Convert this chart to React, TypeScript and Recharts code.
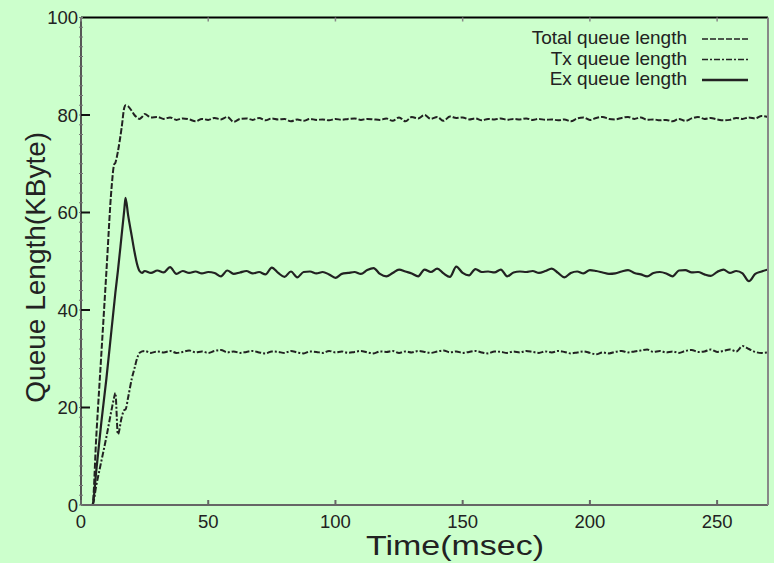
import React from 'react';
import { LineChart, Line, XAxis, YAxis, Legend, Label } from 'recharts';

// time axis (msec)
const times = [
  0, 4.5, 6, 8, 10, 12, 13, 13.5, 14.5, 16, 17, 17.5, 18.5, 20, 21, 22, 23, 24,
  25, 27.5, 30, 32.5, 35, 37.5, 40, 42.5, 45, 47.5, 50, 52.5, 55, 57.5, 60, 62.5, 65, 67.5,
  70, 72.5, 75, 77.5, 80, 82.5, 85, 87.5, 90, 92.5, 95, 97.5, 100, 102.5, 105, 107.5, 110, 112.5,
  115, 117.5, 120, 122.5, 125, 127.5, 130, 132.5, 135, 137.5, 140, 142.5, 145, 147.5, 150, 152.5,
  155, 157.5, 160, 162.5, 165, 167.5, 170, 172.5, 175, 177.5, 180, 182.5, 185, 187.5, 190, 192.5,
  195, 197.5, 200, 202.5, 205, 207.5, 210, 212.5, 215, 217.5, 220, 222.5, 225, 227.5, 230, 232.5,
  235, 237.5, 240, 242.5, 245, 247.5, 250, 252.5, 255, 257.5, 260, 262.5, 265, 267.5, 270,
];

const totalQueue = [
  0, 0, 14, 31, 48, 65, 69.8, 70.2, 72.5, 77.5, 81.5, 82, 81.8, 80.8, 80, 79.5, 79.2, 79.6,
  80.2, 79.5, 79.6, 79.2, 79.5, 79.0, 79.3, 79.1, 78.7, 79.2, 79.0, 79.4, 79.1, 79.6, 78.6, 79.2, 79.3, 79.0,
  79.4, 78.9, 79.3, 79.1, 79.2, 78.7, 79.1, 78.8, 79.2, 79.0, 79.1, 78.9, 79.2, 79.0, 79.2, 79.3, 79.0, 79.2,
  79.1, 79.0, 79.3, 78.8, 79.5, 78.7, 79.6, 79.3, 80.0, 79.2, 79.6, 78.8, 79.7, 79.4, 79.5, 79.1,
  79.3, 78.9, 79.2, 79.1, 79.3, 79.0, 79.2, 79.1, 79.3, 79.0, 79.2, 79.0, 79.1, 78.9, 79.1, 78.7,
  79.3, 79.5, 79.0, 79.4, 79.6, 79.2, 79.1, 79.4, 79.6, 79.2, 79.5, 79.0, 79.1, 78.9, 79.0, 78.7,
  79.2, 78.8, 79.3, 79.6, 79.2, 79.4, 79.1, 78.9, 79.0, 79.4, 79.2, 79.5, 79.3, 79.8, 79.6,
];

const txQueue = [
  0, 0, 4, 9, 14, 19.5, 22, 23, 14.5, 18, 19.5, 19.6, 22, 26, 28, 30, 31.2, 31.5,
  31.6, 31.2, 31.5, 31.3, 31.6, 31.2, 31.4, 31.7, 31.3, 31.5, 31.2, 31.6, 31.8, 31.3, 31.5, 31.2, 31.4, 31.6,
  31.3, 31.1, 31.5, 31.4, 31.2, 31.6, 31.3, 31.1, 31.5, 31.4, 31.2, 31.6, 31.3, 31.5, 31.2, 31.4, 31.6, 31.3,
  31.1, 31.5, 31.4, 31.6, 31.2, 31.5, 31.3, 31.6, 31.4, 31.2, 31.5, 31.7, 31.3, 31.5, 31.2, 31.4,
  31.6, 31.3, 31.1, 31.5, 31.4, 31.2, 31.5, 31.3, 31.6, 31.4, 31.2, 31.5, 31.3, 31.6, 31.4, 31.1,
  31.3, 31.5, 31.2, 30.9, 31.3, 31.1, 31.4, 31.6, 31.3, 31.5, 31.7, 31.9, 31.4, 31.6, 31.3, 31.5,
  31.2, 31.6, 31.8, 31.4, 31.5, 31.9, 31.4, 31.6, 31.9, 31.5, 32.6, 32.0, 31.4, 31.2, 31.3,
];

const exQueue = [
  0, 0, 7, 17, 26, 36, 41, 43.5, 48, 55.5, 60.5, 63, 59.5, 55, 52, 49.5, 48, 47.6,
  48.0, 47.6, 48.1, 47.7, 48.8, 47.4, 48.0, 47.6, 47.9, 47.5, 47.8, 47.6, 46.9, 48.1, 47.4, 47.7, 48.0, 47.5,
  47.8, 47.3, 48.7, 47.6, 46.8, 47.9, 46.7, 47.8, 47.9, 47.5, 47.8, 47.3, 46.6, 47.4, 47.6, 47.8, 47.4, 48.2,
  48.6, 47.4, 46.9, 47.6, 48.3, 47.9, 47.5, 46.9, 48.3, 47.8, 48.5, 47.5, 46.8, 48.9, 47.6, 47.1,
  48.4, 47.8, 47.9, 47.7, 48.3, 46.9, 47.7, 47.9, 47.8, 48.0, 47.6, 48.0, 48.5, 47.6, 46.7, 47.6,
  47.9, 47.5, 48.2, 48.0, 47.7, 47.4, 47.5, 47.9, 48.2, 47.6, 47.3, 46.9, 47.6, 47.8, 47.5, 46.9,
  48.1, 48.2, 47.7, 47.8, 47.3, 47.0, 47.8, 48.3, 47.6, 48.0, 47.5, 45.9, 47.4, 47.9, 48.3,
];

const seriesNames = ['Total queue length', 'Tx queue length', 'Ex queue length'];
const xTicks = [0, 50, 100, 150, 200, 250];
const yTicks = [0, 20, 40, 60, 80, 100];
const yMinorTicks = [
  0, 2, 4, 6, 8, 10, 12, 14, 16, 18, 20, 22, 24, 26, 28, 30, 32, 34, 36, 38, 40, 42, 44, 46, 48, 50,
  52, 54, 56, 58, 60, 62, 64, 66, 68, 70, 72, 74, 76, 78, 80, 82, 84, 86, 88, 90, 92, 94, 96, 98, 100,
];

const data = times.map((t, i) => ({ t, total: totalQueue[i], tx: txQueue[i], ex: exQueue[i] }));

const FONT = '"Liberation Sans", Arial, Helvetica, sans-serif';
const INK = '#222';
const dashes = ['6 2', '6 2 2 2', undefined];

const LeftTick = (p: any) => {
  const v = p.payload.value;
  const major = v % 20 === 0;
  return (
    <g>
      <line x1={p.x - 2} x2={p.x + 2} y1={p.y} y2={p.y} stroke="#777" />
      {major && v > 0 && v < 100 && (
        <line x1={p.x} x2={p.x + 9} y1={p.y} y2={p.y} stroke="#111" strokeWidth={2} />
      )}
      {major && (
        <text x={p.x - 3} y={p.y + 6.5} textAnchor="end" fontSize={18.5} fill={INK} fontFamily={FONT}>
          {v}
        </text>
      )}
    </g>
  );
};

const RightTick = (p: any) => {
  const v = p.payload.value;
  if (v === 0 || v === 100) return <g />;
  return <line x1={p.x - 8} x2={p.x} y1={p.y} y2={p.y} stroke="#111" strokeWidth={2} />;
};

const BottomTick = (p: any) => (
  <g>
    <line x1={p.x} x2={p.x} y1={p.y - 5} y2={p.y} stroke="#666" strokeWidth={2} />
    <text x={p.x} y={p.y + 23} textAnchor="middle" fontSize={18.5} fill={INK} fontFamily={FONT}>
      {p.payload.value}
    </text>
  </g>
);

const TopTick = (p: any) => (
  <line x1={p.x} x2={p.x} y1={p.y} y2={p.y + 4} stroke="#888" strokeWidth={1.5} />
);

const renderLegend = () => (
  <svg width={260} height={70}>
    {seriesNames.map((name, i) => (
      <g key={name}>
        <text x={187} y={19 + i * 20.5} textAnchor="end" fontSize={19} fill={INK} fontFamily={FONT}>
          {name}
        </text>
        <line
          x1={202}
          x2={248}
          y1={14 + i * 20.5}
          y2={14 + i * 20.5}
          stroke={INK}
          strokeWidth={i === 2 ? 2.5 : 1.5}
          strokeDasharray={dashes[i]}
        />
      </g>
    ))}
  </svg>
);

export default function App() {
  return (
    <div
      style={{
        position: 'absolute',
        left: 0,
        top: 0,
        width: 774,
        height: 563,
        background: '#ccffcc',
        fontFamily: FONT,
      }}
    >
      <LineChart width={774} height={563} data={data} margin={{ top: 0, right: 0, bottom: 0, left: 21 }}>
        <XAxis
          dataKey="t"
          type="number"
          domain={[0, 270]}
          ticks={xTicks}
          interval={0}
          height={58}
          axisLine={{ stroke: '#666', strokeWidth: 2 }}
          tickLine={false}
          tickSize={0}
          tickMargin={0}
          tick={(p: any) => <BottomTick {...p} />}
        >
          <Label
            content={(p: any) => (
              <text
                x={p.viewBox.x + 374}
                y={p.viewBox.y + 50}
                textAnchor="middle"
                fontSize={27}
                textLength={178}
                lengthAdjust="spacingAndGlyphs"
                fill={INK}
                fontFamily={FONT}
              >
                Time(msec)
              </text>
            )}
          />
        </XAxis>
        <XAxis
          xAxisId="top"
          orientation="top"
          dataKey="t"
          type="number"
          domain={[0, 270]}
          ticks={xTicks}
          interval={0}
          height={17.5}
          axisLine={{ stroke: '#000', strokeWidth: 2 }}
          tickLine={false}
          tickSize={0}
          tickMargin={0}
          tick={(p: any) => <TopTick {...p} />}
        />
        <YAxis
          type="number"
          domain={[0, 100]}
          ticks={yMinorTicks}
          interval={0}
          width={60}
          axisLine={{ stroke: '#555', strokeWidth: 2 }}
          tickLine={false}
          tickSize={0}
          tickMargin={0}
          tick={(p: any) => <LeftTick {...p} />}
        >
          <Label
            content={(p: any) => {
              const cx = p.viewBox.x + 24;
              const cy = p.viewBox.y + p.viewBox.height / 2 + 6;
              return (
                <text
                  x={cx}
                  y={cy}
                  transform={`rotate(-90 ${cx} ${cy})`}
                  textAnchor="middle"
                  fontSize={28}
                  fill={INK}
                  fontFamily={FONT}
                >
                  Queue Length(KByte)
                </text>
              );
            }}
          />
        </YAxis>
        <YAxis
          yAxisId="right"
          orientation="right"
          type="number"
          domain={[0, 100]}
          ticks={yTicks}
          interval={0}
          width={6}
          axisLine={{ stroke: '#888', strokeWidth: 2 }}
          tickLine={false}
          tickSize={0}
          tickMargin={0}
          tick={(p: any) => <RightTick {...p} />}
        />
        <Line type="monotone" dataKey="total" stroke={INK} strokeWidth={2} strokeDasharray={dashes[0]} dot={false} isAnimationActive={false} />
        <Line type="monotone" dataKey="tx" stroke={INK} strokeWidth={2} strokeDasharray={dashes[1]} dot={false} isAnimationActive={false} />
        <Line type="monotone" dataKey="ex" stroke={INK} strokeWidth={2.2} dot={false} isAnimationActive={false} />
        <Legend
          content={renderLegend}
          layout="vertical"
          align="center"
          verticalAlign="middle"
          wrapperStyle={{ left: 500, top: 25, width: 260, height: 70 }}
        />
      </LineChart>
    </div>
  );
}
